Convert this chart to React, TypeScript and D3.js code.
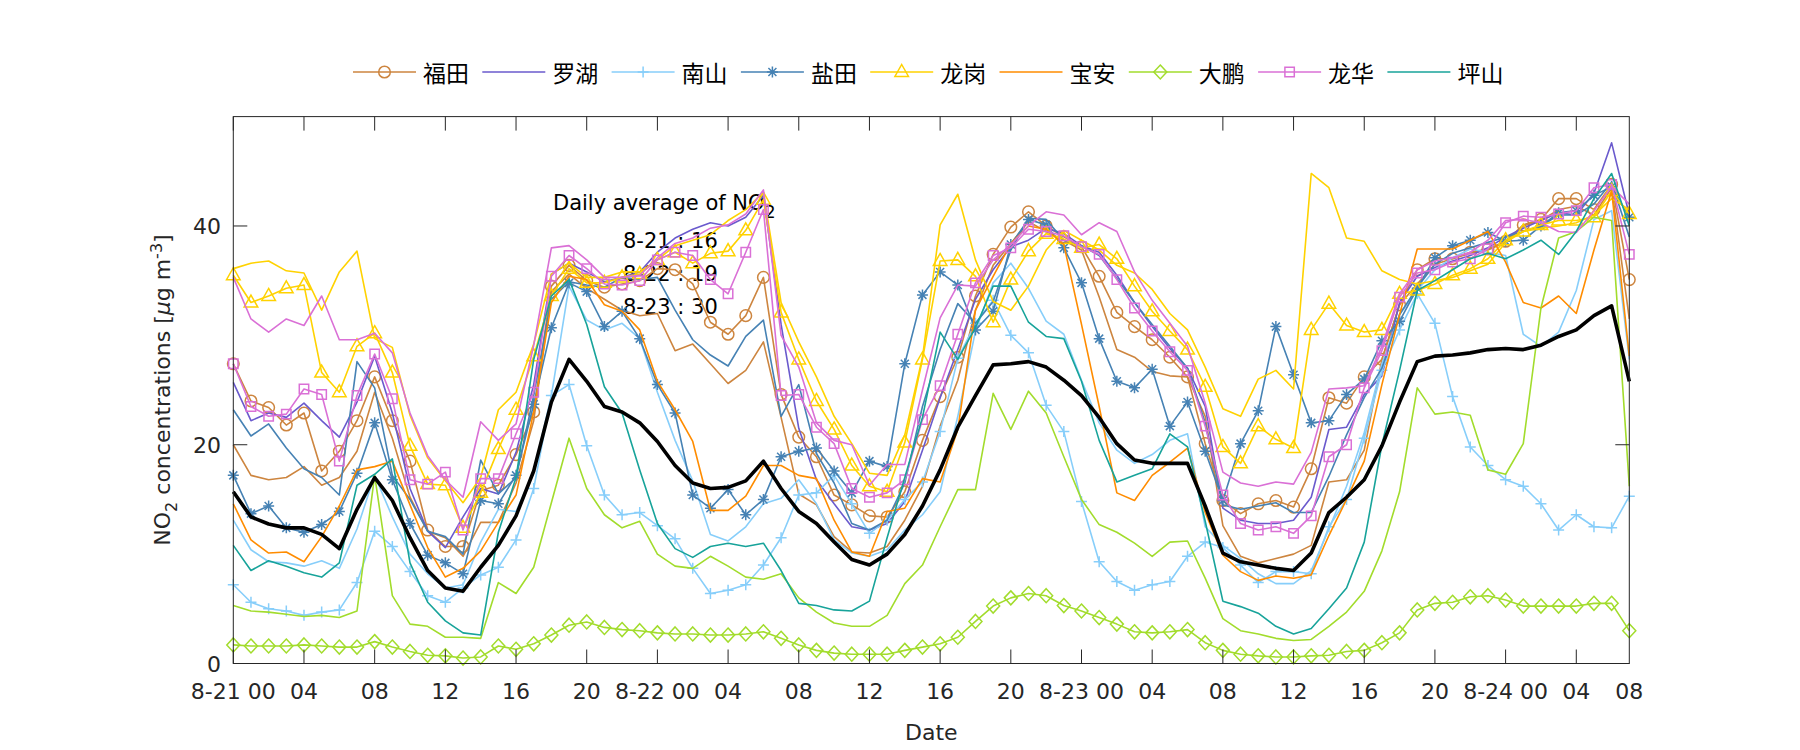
import React from 'react';
import * as d3 from 'd3';

// ---------- data (hourly, 8-21 00 .. 8-24 07) ----------
const tickHours = [0, 4, 8, 12, 16, 20, 24, 28, 32, 36, 40, 44, 48, 52, 56, 60, 64, 68, 72, 76, 79];
const tickLabels = ['8-21 00', '04', '08', '12', '16', '20', '8-22 00', '04', '08', '12', '16', '20', '8-23 00', '04', '08', '12', '16', '20', '8-24 00', '04', '08'];
const yTicks = [0, 20, 40];
const dailyLines = ['8-21 : 16', '8-22 : 19', '8-23 : 30'];

const futian1 = [27.4, 24.0, 23.4, 21.8, 22.9, 17.6, 19.4, 22.2, 26.2, 22.2, 18.5, 12.2, 10.7, 10.7, 15.8, 16.3, 19.1,
  23.0, 34.5, 36.4, 35.0, 34.4, 34.7, 35.0, 36.1, 36.0, 34.7, 31.2, 30.1, 31.8, 35.3, 24.6,
  20.7, 18.9, 15.4, 14.5, 13.5, 13.4, 15.7, 20.4, 24.4, 28.0, 33.6, 37.4, 39.9, 41.3, 40.0, 39.0,
  38.1, 35.4, 32.1, 30.8, 29.6, 28.0, 26.2, 20.1, 14.9, 13.7, 14.6, 14.9, 14.3, 17.8, 24.3, 23.8,
  26.2, 27.8, 32.8, 36.0, 37.0, 37.0, 37.6, 37.9, 38.6, 40.1, 40.6, 42.5, 42.5, 41.5, 43.8, 35.1];
const futian2 = [20.0, 17.2, 16.8, 17.0, 18.0, 16.3, 17.0, 19.4, 24.8, 20.6, 15.2, 12.1, 11.5, 9.8, 12.9, 12.9, 16.5,
  22.2, 34.0, 35.6, 34.3, 33.3, 32.3, 31.8, 32.0, 28.6, 29.2, 27.4, 25.6, 26.8, 29.4, 22.5,
  15.5, 14.5, 11.6, 10.2, 10.1, 10.7, 13.1, 16.2, 21.7, 25.9, 32.3, 36.4, 38.4, 40.4, 39.5, 38.7,
  37.8, 33.5, 28.7, 28.0, 26.7, 26.3, 26.2, 22.6, 12.6, 9.8, 9.2, 9.6, 10.0, 10.8, 16.6, 16.8,
  19.5, 27.8, 32.8, 34.7, 36.5, 37.0, 37.5, 37.8, 38.5, 40.0, 40.5, 41.5, 41.8, 41.0, 43.5, 31.5];
const luohu = [25.7, 22.2, 22.9, 22.5, 23.8, 22.2, 20.7, 23.9, 28.1, 22.9, 16.0, 12.1, 10.6, 13.4, 16.0, 15.5, 19.3,
  25.5, 35.6, 36.6, 35.8, 34.9, 35.3, 35.8, 37.6, 38.9, 39.7, 40.3, 40.0, 40.8, 42.8, 31.0,
  21.5, 16.8, 14.6, 12.5, 12.2, 12.8, 14.8, 19.5, 24.3, 28.7, 33.3, 36.0, 38.1, 38.7, 39.8, 39.3,
  38.2, 37.6, 35.5, 33.0, 30.8, 28.8, 27.0, 23.5, 14.2, 13.1, 12.8, 12.8, 13.1, 15.2, 21.4, 21.6,
  24.6, 26.3, 33.0, 35.4, 36.2, 36.8, 37.3, 38.0, 39.0, 39.8, 40.5, 41.2, 41.0, 43.0, 47.6, 41.0];
const nanshan1 = [7.2, 5.6, 5.0, 4.8, 4.4, 4.7, 4.9, 7.4, 12.1, 10.7, 8.4, 6.2, 5.6, 6.9, 8.1, 8.8, 11.3,
  16.0, 24.5, 25.5, 19.9, 15.4, 13.6, 13.8, 12.6, 11.4, 8.7, 6.4, 6.7, 7.2, 9.0, 11.5,
  15.4, 15.6, 17.2, 14.6, 11.9, 13.1, 15.0, 16.6, 21.2, 27.9, 31.1, 33.2, 30.0, 28.4, 23.6, 21.2,
  14.8, 9.3, 7.5, 6.7, 7.2, 7.5, 9.8, 11.1, 10.6, 9.0, 7.4, 8.4, 8.4, 8.2, 12.5, 15.0,
  20.6, 26.8, 30.5, 33.8, 31.1, 24.4, 19.8, 18.1, 16.8, 16.2, 14.6, 12.2, 13.6, 12.5, 12.4, 15.3];
const nanshan2 = [13.1, 10.4, 9.3, 9.2, 8.9, 9.4, 8.7, 12.3, 17.2, 13.4, 10.0, 8.2, 6.9, 7.2, 11.1, 14.1, 13.9,
  17.5, 24.5, 34.5, 31.4, 30.5, 31.1, 29.7, 24.8, 20.4, 16.7, 11.8, 11.2, 12.5, 14.6, 15.1,
  16.8, 14.6, 11.3, 10.1, 9.8, 10.4, 12.2, 13.6, 15.7, 22.6, 30.4, 34.8, 36.6, 34.3, 31.3, 30.1,
  25.9, 22.0, 19.5, 18.3, 19.1, 20.4, 21.0, 12.5, 10.8, 9.6, 8.2, 7.3, 7.3, 8.5, 12.3, 16.2,
  21.1, 27.4, 31.9, 34.1, 36.0, 37.1, 37.9, 37.6, 37.3, 30.1, 29.0, 30.3, 34.1, 40.6, 41.4, 27.8];
const yantian1 = [17.2, 13.7, 14.4, 12.4, 12.0, 12.7, 13.9, 17.4, 22.0, 16.8, 12.8, 9.9, 9.2, 8.2, 14.9, 14.6, 17.2,
  23.7, 30.7, 34.8, 34.0, 30.8, 32.2, 29.7, 25.5, 22.9, 15.4, 14.2, 15.9, 13.6, 15.0, 18.9,
  19.4, 19.7, 17.6, 15.6, 18.5, 18.0, 27.4, 33.7, 35.8, 34.6, 30.5, 32.2, 38.3, 40.6, 40.1, 38.0,
  34.8, 29.7, 25.8, 25.2, 26.9, 21.7, 23.9, 19.4, 14.9, 20.1, 23.1, 30.8, 26.4, 22.0, 22.2, 24.6,
  26.0, 29.5, 31.3, 34.3, 37.1, 38.2, 38.7, 39.4, 38.6, 38.7, 40.0, 41.2, 41.4, 42.8, 43.6, 40.8];
const yantian2 = [23.2, 20.8, 21.9, 19.7, 17.8, 17.0, 15.4, 27.6, 25.2, 17.2, 15.0, 12.1, 11.6, 10.0, 18.6, 15.5, 17.0,
  24.5, 33.3, 34.9, 34.6, 34.4, 35.3, 35.1, 35.3, 32.3, 29.6, 28.2, 27.2, 29.9, 31.4, 22.6,
  25.5, 19.2, 16.5, 12.8, 12.2, 13.1, 16.5, 23.5, 28.7, 32.9, 31.1, 33.1, 37.8, 40.7, 40.6, 38.7,
  38.2, 37.3, 35.2, 33.0, 31.0, 29.0, 27.0, 22.0, 14.5, 14.1, 14.4, 14.7, 13.8, 13.8, 17.1, 20.9,
  24.3, 27.0, 31.9, 34.4, 36.5, 37.5, 38.0, 38.5, 39.0, 39.5, 40.0, 41.0, 41.0, 42.0, 44.0, 39.0];
const longgang1 = [35.5, 33.0, 33.6, 34.3, 34.6, 26.6, 24.8, 29.0, 30.2, 26.6, 19.9, 16.4, 16.3, 12.4, 15.6, 19.6, 23.2,
  28.1, 33.6, 36.1, 34.8, 34.8, 35.3, 35.6, 36.9, 37.6, 36.6, 37.5, 37.7, 39.6, 42.4, 32.1,
  27.8, 24.0, 21.4, 18.1, 16.2, 15.7, 20.2, 27.8, 36.8, 36.9, 35.4, 31.2, 35.1, 37.7, 39.3, 38.8,
  38.0, 38.3, 37.0, 34.5, 32.2, 30.4, 28.7, 25.3, 19.8, 18.3, 21.7, 20.5, 19.7, 30.5, 32.9, 30.9,
  30.3, 30.5, 33.8, 34.1, 34.7, 35.5, 36.1, 37.0, 38.7, 39.5, 40.1, 40.5, 40.5, 40.8, 43.2, 41.1];
const longgang2 = [36.1, 36.6, 36.8, 35.9, 35.7, 32.3, 35.8, 37.7, 29.7, 28.9, 22.7, 18.8, 16.7, 14.7, 17.0, 23.2, 24.8,
  29.2, 35.6, 36.6, 35.3, 35.3, 35.8, 35.8, 36.9, 38.2, 38.7, 39.2, 40.5, 41.5, 43.1, 33.0,
  29.4, 26.2, 22.6, 20.1, 17.4, 17.2, 20.9, 28.0, 40.1, 42.9, 36.9, 33.1, 32.3, 34.5, 37.8, 39.6,
  38.7, 37.8, 36.4, 35.7, 34.2, 32.0, 30.5, 27.1, 23.3, 22.6, 26.0, 26.8, 25.1, 44.8, 43.5, 38.9,
  38.6, 35.9, 35.1, 34.7, 35.0, 35.3, 35.9, 36.5, 38.5, 39.5, 39.8, 40.0, 40.3, 41.0, 42.5, 41.5];
const baoan = [14.6, 11.3, 10.1, 10.2, 9.3, 11.6, 14.4, 17.7, 18.0, 18.5, 14.5, 10.6, 7.9, 8.7, 10.3, 12.9, 15.4,
  23.0, 33.0, 35.4, 35.1, 32.8, 32.2, 30.5, 25.8, 23.2, 20.3, 14.0, 14.0, 15.3, 18.1, 18.1,
  17.2, 16.9, 13.1, 10.2, 9.8, 13.9, 14.2, 16.9, 16.6, 21.4, 32.3, 35.4, 38.4, 40.0, 39.7, 38.3,
  31.0, 23.5, 15.6, 14.9, 17.2, 18.4, 19.7, 13.8, 9.9, 8.4, 7.6, 8.0, 7.8, 8.1, 11.7, 15.0,
  18.5, 25.5, 31.9, 37.9, 37.9, 37.9, 38.7, 39.5, 36.7, 33.0, 32.5, 33.6, 32.0, 37.8, 43.2, 28.1];
const dapeng1 = [1.7, 1.6, 1.6, 1.6, 1.7, 1.6, 1.5, 1.5, 2.0, 1.5, 1.1, 0.75, 0.7, 0.5, 0.6, 1.6, 1.3,
  1.8, 2.6, 3.5, 3.8, 3.3, 3.1, 3.0, 2.8, 2.7, 2.7, 2.6, 2.6, 2.7, 2.9, 2.3,
  1.7, 1.2, 0.95, 0.85, 0.85, 0.85, 1.2, 1.5, 1.8, 2.4, 3.85, 5.25, 6.0, 6.4, 6.2, 5.3,
  4.8, 4.2, 3.6, 2.9, 2.8, 2.9, 3.1, 1.9, 1.2, 0.85, 0.7, 0.6, 0.6, 0.7, 0.75, 1.1,
  1.2, 1.9, 2.8, 4.9, 5.5, 5.6, 6.1, 6.2, 5.8, 5.25, 5.25, 5.25, 5.25, 5.5, 5.5, 3.0];
const dapeng2 = [5.3, 4.8, 4.7, 4.5, 4.3, 4.4, 4.2, 4.8, 17.2, 6.2, 3.6, 3.4, 2.4, 2.4, 2.3, 7.4, 6.4,
  8.8, 14.7, 20.6, 16.0, 13.6, 12.4, 13.0, 10.0, 8.9, 8.7, 9.8, 8.9, 7.9, 7.7, 8.2,
  6.0, 4.7, 3.7, 3.4, 3.4, 4.4, 7.3, 9.0, 12.5, 15.9, 15.9, 24.7, 21.4, 24.9, 22.9, 18.9,
  15.0, 12.7, 12.0, 11.0, 9.8, 11.1, 11.2, 7.8, 4.1, 3.0, 2.7, 2.3, 2.1, 2.2, 3.4, 4.7,
  6.6, 10.3, 15.7, 25.2, 22.8, 23.0, 22.7, 17.7, 17.3, 20.1, 32.5, 38.9, 39.5, 40.8, 40.5, 16.2];
const longhua1 = [27.4, 23.5, 22.6, 22.8, 25.1, 24.6, 18.5, 24.5, 28.3, 24.2, 16.8, 16.4, 17.5, 12.2, 16.9, 16.9, 21.0,
  24.8, 35.4, 37.3, 36.1, 34.7, 34.6, 35.0, 36.9, 37.6, 37.3, 35.1, 33.8, 37.6, 41.5, 24.5,
  24.6, 21.6, 20.1, 16.0, 15.2, 15.6, 16.8, 22.3, 25.4, 30.1, 34.8, 37.3, 38.0, 39.7, 39.5, 39.1,
  38.1, 37.4, 35.1, 32.5, 30.4, 28.5, 26.8, 21.7, 15.4, 12.8, 12.2, 12.5, 11.9, 13.5, 18.9, 20.0,
  25.2, 28.6, 33.5, 35.7, 36.0, 36.7, 37.0, 37.9, 40.3, 40.9, 40.8, 41.1, 41.4, 43.5, 43.8, 37.4];
const longhua2 = [35.3, 31.5, 30.3, 31.5, 30.9, 33.6, 29.6, 29.6, 30.2, 28.4, 22.9, 19.0, 16.8, 15.2, 22.1, 20.4, 21.9,
  29.1, 38.0, 38.2, 36.9, 35.3, 35.3, 35.5, 37.1, 38.4, 38.9, 39.8, 40.1, 41.1, 43.3, 30.0,
  27.1, 22.0, 20.4, 20.0, 16.3, 18.2, 18.2, 25.0, 31.6, 34.6, 34.5, 36.9, 38.3, 40.0, 41.3, 41.0,
  39.2, 40.3, 39.5, 35.8, 33.2, 31.1, 29.0, 23.8, 17.5, 16.5, 16.2, 16.6, 16.4, 19.3, 25.1, 25.2,
  25.4, 29.0, 33.8, 36.0, 36.8, 37.1, 37.6, 38.7, 40.5, 40.6, 40.3, 39.5, 39.4, 41.4, 43.6, 42.0];
const pingshan = [10.8, 8.5, 9.4, 8.9, 8.3, 7.9, 9.2, 16.3, 17.3, 18.7, 9.2, 5.6, 3.9, 2.8, 2.6, 12.0, 17.0,
  27.8, 33.6, 35.1, 31.0, 25.3, 22.9, 17.7, 12.8, 10.5, 9.7, 10.7, 11.0, 10.7, 11.0, 8.5,
  5.5, 5.3, 4.9, 4.8, 5.7, 11.5, 17.0, 22.5, 30.3, 27.8, 30.7, 34.5, 34.5, 31.2, 29.9, 29.7,
  25.8, 20.4, 16.6, 17.2, 17.8, 21.0, 19.8, 13.0, 5.7, 5.2, 4.6, 3.4, 2.7, 3.2, 5.0, 6.9,
  11.1, 20.0, 26.8, 34.1, 35.0, 36.0, 37.0, 37.5, 37.0, 37.8, 38.7, 37.4, 39.5, 42.5, 44.8, 40.0];
const average = [15.7, 13.4, 12.75, 12.4, 12.4, 11.8, 10.5, 14.1, 17.0, 14.9, 11.5, 8.5, 6.9, 6.6, 8.8, 10.8, 13.5,
  17.6, 23.9, 27.8, 25.8, 23.5, 23.0, 22.0, 20.3, 18.1, 16.5, 16.0, 16.1, 16.7, 18.5, 16.0,
  13.9, 12.8, 11.1, 9.5, 9.0, 10.0, 11.8, 14.4, 17.7, 21.6, 24.5, 27.3, 27.4, 27.6, 27.1, 25.9,
  24.5, 22.5, 20.1, 18.6, 18.3, 18.3, 18.3, 14.4, 10.1, 9.3, 9.0, 8.7, 8.5, 10.1, 13.8, 15.2,
  16.8, 19.9, 23.9, 27.6, 28.1, 28.2, 28.4, 28.7, 28.8, 28.7, 29.1, 29.9, 30.5, 31.8, 32.7, 25.8];

const districts = ['福田', '罗湖', '南山', '盐田', '龙岗', '宝安', '大鹏', '龙华', '坪山'];

type Marker = 'circle' | 'plus' | 'asterisk' | 'triangle' | 'diamond' | 'square' | 'none';
interface Series { district: string; color: string; marker: Marker; data: number[]; legend: boolean; }

const C = {
  futian: '#CD853F', luohu: '#6A5ACD', nanshan: '#87CEFA', yantian: '#4682B4', longgang: '#FFD200',
  baoan: '#FF8C00', dapeng: '#A2DC2C', longhua: '#DA70D6', pingshan: '#17A39A',
};

const series: Series[] = [
  { district: '福田', color: C.futian, marker: 'none', data: futian2, legend: false },
  { district: '福田', color: C.futian, marker: 'circle', data: futian1, legend: true },
  { district: '罗湖', color: C.luohu, marker: 'none', data: luohu, legend: true },
  { district: '南山', color: C.nanshan, marker: 'none', data: nanshan2, legend: false },
  { district: '南山', color: C.nanshan, marker: 'plus', data: nanshan1, legend: true },
  { district: '盐田', color: C.yantian, marker: 'none', data: yantian2, legend: false },
  { district: '盐田', color: C.yantian, marker: 'asterisk', data: yantian1, legend: true },
  { district: '龙岗', color: C.longgang, marker: 'none', data: longgang2, legend: false },
  { district: '龙岗', color: C.longgang, marker: 'triangle', data: longgang1, legend: true },
  { district: '宝安', color: C.baoan, marker: 'none', data: baoan, legend: true },
  { district: '大鹏', color: C.dapeng, marker: 'none', data: dapeng2, legend: false },
  { district: '大鹏', color: C.dapeng, marker: 'diamond', data: dapeng1, legend: true },
  { district: '龙华', color: C.longhua, marker: 'none', data: longhua2, legend: false },
  { district: '龙华', color: C.longhua, marker: 'square', data: longhua1, legend: true },
  { district: '坪山', color: C.pingshan, marker: 'none', data: pingshan, legend: true },
];

// ---------- layout ----------
const W = 1800, H = 750;
const PL = 233.3, PR = 1629.3, PT = 116.6, PB = 663.5;
const LATIN = "'DejaVu Sans', 'Liberation Sans', Arial, sans-serif";
const CJK = "'Noto Sans CJK SC', 'Noto Sans', sans-serif";
const AX = '#262626';

const x = d3.scaleLinear().domain([0, 79]).range([PL, PR]);
const y = d3.scaleLinear().domain([0, 50]).range([PB, PT]);
const lineGen = d3.line<number>().x((_, i) => x(i)).y((d) => y(d));

function MarkerShape({ m, cx, cy, color }: { m: Marker; cx: number; cy: number; color: string }) {
  const common = { fill: 'none', stroke: color, strokeWidth: 1.5 };
  switch (m) {
    case 'circle':
      return <circle cx={cx} cy={cy} r={5.8} {...common} />;
    case 'triangle':
      return <path transform={`translate(${cx},${cy})`} d="M0,-7.5L6.8,4.5L-6.8,4.5Z" {...common} />;
    case 'diamond':
      return <path transform={`translate(${cx},${cy})`} d="M0,-7L6.5,0L0,7L-6.5,0Z" {...common} />;
    case 'square':
      return <path transform={`translate(${cx},${cy})`} d="M-4.7,-4.7H4.7V4.7H-4.7Z" {...common} />;
    case 'plus':
      return <path transform={`translate(${cx},${cy})`} d="M-5.5,0H5.5M0,-5.5V5.5" {...common} />;
    case 'asterisk':
      return <path transform={`translate(${cx},${cy})`} d="M-5.5,0H5.5M0,-5.5V5.5M-4,-4L4,4M-4,4L4,-4" {...common} />;
    default:
      return null;
  }
}

export default function App() {
  const legendItems = districts.map((d) => series.find((s) => s.district === d && s.legend)!);
  const xTicks = tickHours.slice(0, tickHours.length - 1);
  const TL = 14;

  return (
    <svg width={W} height={H} style={{ position: 'absolute', left: 0, top: 0, background: '#fff' }}>
      <rect x={0} y={0} width={W} height={H} fill="#ffffff" />

      {/* annotation */}
      <g fontFamily={LATIN} fontSize={21} fill="#000">
        <text x={553} y={210}>
          Daily average of NO<tspan dy={8} fontSize={17}>2</tspan>
        </text>
        {dailyLines.map((t, i) => (
          <text key={t} x={623} y={248 + i * 33}>{t}</text>
        ))}
      </g>

      {/* series */}
      <g>
        {series.map((s, si) => (
          <g key={si}>
            <path d={lineGen(s.data) || ''} fill="none" stroke={s.color} strokeWidth={1.6} strokeLinejoin="round" />
            {s.marker !== 'none' &&
              s.data.map((v, i) => <MarkerShape key={i} m={s.marker} cx={x(i)} cy={y(v)} color={s.color} />)}
          </g>
        ))}
        <path d={lineGen(average) || ''} fill="none" stroke="#000" strokeWidth={3.6} strokeLinejoin="round" />
      </g>

      {/* axes box */}
      <rect x={PL} y={PT} width={PR - PL} height={PB - PT} fill="none" stroke={AX} strokeWidth={1} />
      <g stroke={AX} strokeWidth={1}>
        {xTicks.map((h) => (
          <g key={h}>
            <line x1={x(h)} x2={x(h)} y1={PB} y2={PB - TL} />
            <line x1={x(h)} x2={x(h)} y1={PT} y2={PT + TL} />
          </g>
        ))}
        {yTicks.map((v) => (
          <g key={v}>
            <line x1={PL} x2={PL + TL} y1={y(v)} y2={y(v)} />
            <line x1={PR} x2={PR - TL} y1={y(v)} y2={y(v)} />
          </g>
        ))}
      </g>

      {/* tick labels */}
      <g fontFamily={LATIN} fontSize={22} fill={AX}>
        {tickHours.map((h, i) => (
          <text key={i} x={x(h)} y={699} textAnchor="middle">{tickLabels[i]}</text>
        ))}
        {yTicks.map((v) => (
          <text key={v} x={221} y={y(v) + 8} textAnchor="end">{v}</text>
        ))}
        <text x={(PL + PR) / 2} y={740} textAnchor="middle">Date</text>
        <text transform="translate(170,390) rotate(-90)" textAnchor="middle">
          NO<tspan dy={7} fontSize={16}>2</tspan>
          <tspan dy={-7}> concentrations [</tspan>
          <tspan fontStyle="italic">μ</tspan>
          <tspan>g m</tspan>
          <tspan dy={-8} fontSize={16}>-3</tspan>
          <tspan dy={8}>]</tspan>
        </text>
      </g>

      {/* legend */}
      <g>
        {legendItems.map((s, i) => {
          const x0 = 353 + i * 129.3;
          const cy = 72;
          return (
            <g key={s.district}>
              <line x1={x0} x2={x0 + 63} y1={cy} y2={cy} stroke={s.color} strokeWidth={1.6} />
              <MarkerShape m={s.marker} cx={x0 + 31.5} cy={cy} color={s.color} />
              <text x={x0 + 70} y={cy} dominantBaseline="central" fontFamily={CJK} fontSize={23} fill="#000">
                {s.district}
              </text>
            </g>
          );
        })}
      </g>
    </svg>
  );
}
